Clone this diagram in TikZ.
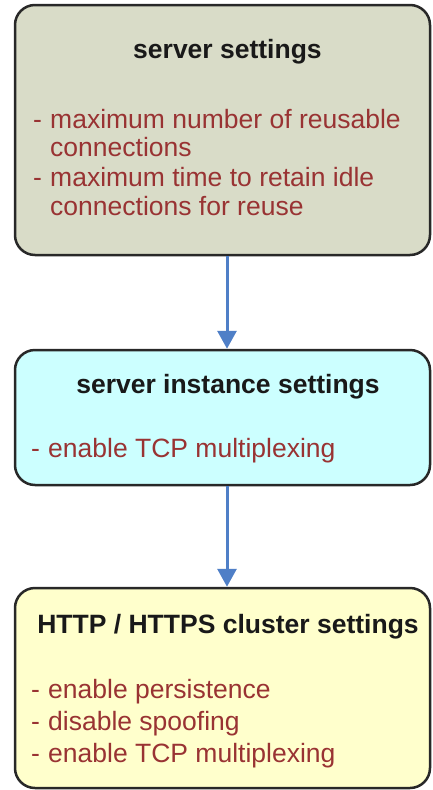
\documentclass[tikz,border=0pt]{standalone}
\usepackage{fontspec}
\setmainfont{Liberation Sans}
\usetikzlibrary{arrows.meta}
\definecolor{boxA}{RGB}{217,220,200}
\definecolor{boxB}{RGB}{204,255,255}
\definecolor{boxC}{RGB}{255,255,204}
\definecolor{itemred}{RGB}{153,51,51}
\definecolor{arrblue}{RGB}{79,127,199}
\definecolor{edge}{RGB}{40,40,40}
\tikzset{
  box/.style={draw=edge, line width=2.5pt, rounded corners=20pt, inner sep=0pt},
  title/.style={anchor=base, inner sep=0pt, text=black!90, font=\fontsize{26.5pt}{30pt}\selectfont\bfseries},
  item/.style={anchor=base west, inner sep=0pt, text=itemred, font=\fontsize{26.5pt}{30pt}\selectfont},
  hyph/.style={anchor=base west, inner sep=0pt, text=itemred, font=\fontsize{26.5pt}{30pt}\selectfont},
  arr/.style={draw=arrblue, line width=3pt, -{Triangle[length=18pt,width=19pt]}}
}
\begin{document}
\begin{tikzpicture}[x=1pt,y=-1pt]
\useasboundingbox[fill=white] (0,0) rectangle (432,790);
% boxes
\node[box, fill=boxA, minimum width=415pt, minimum height=250pt] (s1) at (222.5,130) {};
\node[box, fill=boxB, minimum width=415pt, minimum height=135pt] (s2) at (222.5,417.5) {};
\node[box, fill=boxC, minimum width=415pt, minimum height=200pt] (s3) at (222.5,688) {};
% arrows
\coordinate (ax) at (227,0);
\draw[arr] (s1.south -| ax) -- (s2.north -| ax);
\draw[arr] (s2.south -| ax) -- (s3.north -| ax);
% box 1 text
\node[title] (t1) at (227.5,58) {server settings};
\node[hyph] (d1a) at (33,128) {-};
\node[item] (i1a) at (50,128) {maximum number of reusable};
\node[item] (i1b) at (50,156) {connections};
\node[hyph] (d1b) at (33,186) {-};
\node[item] (i1c) at (50,186) {maximum time to retain idle};
\node[item] (i1d) at (50,215) {connections for reuse};
% box 2 text
\node[title] (t2) at (228,393) {server instance settings};
\node[hyph] (d2a) at (31,457) {-};
\node[item] (i2a) at (48,457) {enable TCP multiplexing};
% box 3 text
\node[title] (t3) at (228,633) {HTTP / HTTPS cluster settings};
\node[hyph] (d3a) at (31,698) {-};
\node[item] (i3a) at (48,698) {enable persistence};
\node[hyph] (d3b) at (31,730) {-};
\node[item] (i3b) at (48,730) {disable spoofing};
\node[hyph] (d3c) at (31,762) {-};
\node[item] (i3c) at (48,762) {enable TCP multiplexing};
\end{tikzpicture}
\end{document}
